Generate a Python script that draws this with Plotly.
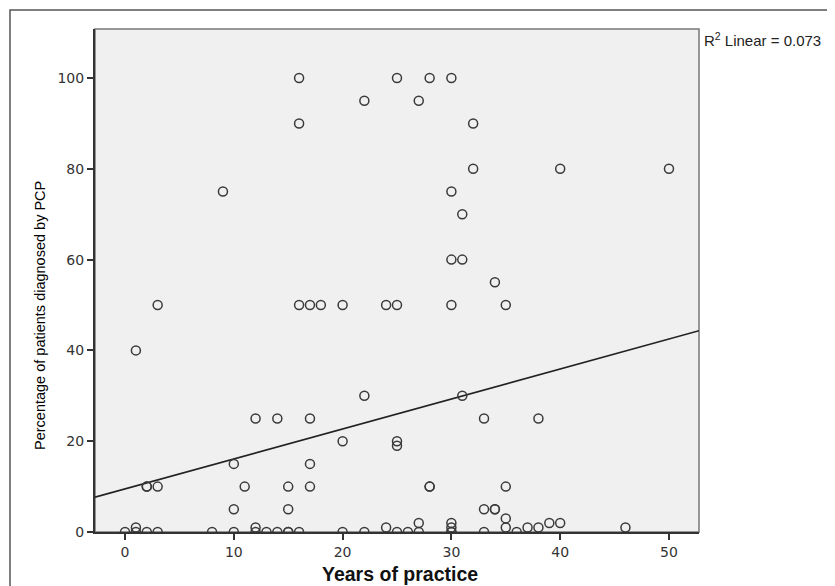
import plotly.graph_objects as go

# Data
years = [1, 3, 9, 16, 16, 22, 25, 27, 28, 30, 32, 32, 40, 50, 30, 31, 30, 31, 34, 30, 35,
         16, 17, 18, 20, 24, 25, 22, 31, 12, 14, 17, 33, 38, 20, 25, 25, 10, 17,
         2, 2, 3, 11, 15, 17, 28, 28, 35, 10, 15, 33, 34, 34, 35, 27, 30, 39, 40,
         1, 12, 24, 30, 35, 37, 38, 46,
         0, 1, 2, 3, 8, 10, 12, 13, 14, 15, 15, 16, 20, 22, 25, 26, 27, 30, 30, 33, 36]
percent = [40, 50, 75, 100, 90, 95, 100, 95, 100, 100, 90, 80, 80, 80, 75, 70, 60, 60, 55, 50, 50,
           50, 50, 50, 50, 50, 50, 30, 30, 25, 25, 25, 25, 25, 20, 20, 19, 15, 15,
           10, 10, 10, 10, 10, 10, 10, 10, 10, 5, 5, 5, 5, 5, 3, 2, 2, 2, 2,
           1, 1, 1, 1, 1, 1, 1, 1,
           0, 0, 0, 0, 0, 0, 0, 0, 0, 0, 0, 0, 0, 0, 0, 0, 0, 0, 0, 0, 0]

# Fit line
fit_intercept = 9.5
fit_slope = 0.66
r2_text = "R<sup>2</sup> Linear = 0.073"

x_ticks = [0, 10, 20, 30, 40, 50]
y_ticks = [0, 20, 40, 60, 80, 100]
x_range = [-2.76, 52.76]
y_range = [0, 110.8]

fit_x = x_range
fit_y = [fit_intercept + fit_slope * v for v in fit_x]

fig = go.Figure()
fig.add_trace(go.Scatter(
    x=fit_x, y=fit_y, mode="lines",
    line=dict(color="#222222", width=1.6),
    hoverinfo="skip", showlegend=False,
))
fig.add_trace(go.Scatter(
    x=years, y=percent, mode="markers",
    marker=dict(symbol="circle-open", size=9, color="#3a3a3a", line=dict(width=1.5, color="#3a3a3a")),
    showlegend=False,
))

OFF = 8  # page body margin
W, H = 835 - OFF, 586 - OFF
# plot area edges in page pixels
L, R, T, B = 95, 699, 29, 532

def px(v):
    return (v - L) / (R - L)

def py(v):
    return (B - v) / (B - T)

tickfont = dict(family="DejaVu Sans", size=14, color="#333333")

fig.update_layout(
    width=W, height=H,
    margin=dict(l=L - OFF, r=835 - R, t=T - OFF, b=586 - B, pad=0),
    paper_bgcolor="white",
    plot_bgcolor="#f0f0f0",
    xaxis=dict(range=x_range, tickvals=x_ticks, ticks="outside", ticklen=6, tickwidth=1.5,
               tickcolor="#333333", showgrid=False, zeroline=False, showline=True,
               linecolor="#333333", linewidth=2, tickfont=tickfont, fixedrange=True),
    yaxis=dict(range=y_range, tickvals=y_ticks, ticks="outside", ticklen=6, tickwidth=1.5,
               tickcolor="#333333", showgrid=False, zeroline=False, showline=True,
               linecolor="#333333", linewidth=2, tickfont=tickfont, fixedrange=True),
    shapes=[
        dict(type="rect", xref="paper", yref="paper", x0=0, x1=1, y0=0, y1=1,
             line=dict(color="#777777", width=1.5), layer="below"),
        dict(type="rect", xref="paper", yref="paper", x0=px(10), x1=px(833), y0=py(620), y1=py(10),
             line=dict(color="#555555", width=1.5), fillcolor="rgba(0,0,0,0)", layer="above"),
    ],
    annotations=[
        dict(text="Years of practice", xref="paper", yref="paper", x=px(400), y=py(574),
             xanchor="center", yanchor="middle", showarrow=False,
             font=dict(family="Liberation Sans", size=19.5, color="#111111", weight="bold")),
        dict(text="Percentage of patients diagnosed by PCP", xref="paper", yref="paper",
             x=px(40), y=py(316), xanchor="center", yanchor="middle", textangle=-90, showarrow=False,
             font=dict(family="Liberation Sans", size=14.5, color="#000000")),
        dict(text=r2_text, xref="paper", yref="paper", x=px(702), y=py(40),
             xanchor="left", yanchor="middle", showarrow=False,
             font=dict(family="Liberation Sans", size=15, color="#222222")),
    ],
)

fig.write_html("out.html")
